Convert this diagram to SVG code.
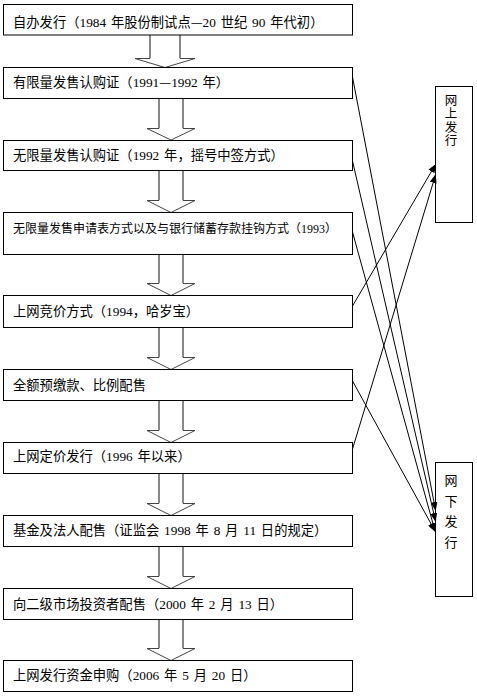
<svg xmlns="http://www.w3.org/2000/svg" width="477" height="699" viewBox="0 0 477 699">
<style>
.box{fill:#fff;stroke:#000;stroke-width:1}
.t{font-family:"Noto Sans CJK SC","Noto Sans CJK JP",sans-serif;font-size:13.3px;fill:#000;word-spacing:1.5px}
.s{font-size:12px;word-spacing:1.5px}
.n{font-family:"Liberation Serif",serif}
.shaft{fill:none;stroke:#888;stroke-width:2}
.head{fill:#fff;stroke:#444;stroke-width:1;stroke-linejoin:miter}
.con{fill:none;stroke:#000;stroke-width:1;marker-end:url(#ah)}
.v{font-family:"Noto Sans CJK SC","Noto Sans CJK JP",sans-serif;fill:#000;writing-mode:tb;glyph-orientation-vertical:0}
</style>
<defs>
<marker id="ah" markerWidth="9" markerHeight="7" refX="8" refY="3.5" orient="auto" markerUnits="userSpaceOnUse">
<path d="M0,0 L9,3.5 L0,7 z" fill="#000"/>
</marker>
</defs>
<rect width="477" height="699" fill="#fff"/>

<g id="block-arrows">
<path class="shaft" d="M150,35 V58.5 M180,35 V58.5"/>
<path class="head" d="M150,58.5 H135 L165,67.5 L195,58.5 H180"/>
<path class="shaft" d="M159,98.5 V128.5 M183,98.5 V128.5"/>
<path class="head" d="M159,128.5 H147 L171,140 L195,128.5 H183"/>
<path class="shaft" d="M159,170.5 V200.5 M183,170.5 V200.5"/>
<path class="head" d="M159,200.5 H147 L171,212.5 L195,200.5 H183"/>
<path class="shaft" d="M159,254.5 V283.5 M183,254.5 V283.5"/>
<path class="head" d="M159,283.5 H147 L171,295.5 L195,283.5 H183"/>
<path class="shaft" d="M159,327.5 V357.5 M183,327.5 V357.5"/>
<path class="head" d="M159,357.5 H147 L171,369.5 L195,357.5 H183"/>
<path class="shaft" d="M159,400.5 V430.5 M183,400.5 V430.5"/>
<path class="head" d="M159,430.5 H147 L171,442.5 L195,430.5 H183"/>
<path class="shaft" d="M159,473.5 V503.5 M183,473.5 V503.5"/>
<path class="head" d="M159,503.5 H147 L171,515.5 L195,503.5 H183"/>
<path class="shaft" d="M159,546.5 V576.5 M183,546.5 V576.5"/>
<path class="head" d="M159,576.5 H147 L171,588.5 L195,576.5 H183"/>
<path class="shaft" d="M159,619.5 V648.5 M183,619.5 V648.5"/>
<path class="head" d="M159,648.5 H147 L171,660.5 L195,648.5 H183"/>
</g>

<g id="n1"><rect class="box" x="3.5" y="4.5" width="349" height="30.5"/>
<text class="t" x="13" y="26.5">自办发行（<tspan class="n">1984 </tspan>年股份制试点—<tspan class="n">20 </tspan>世纪<tspan class="n"> 90 </tspan>年代初）</text></g>
<g id="n2"><rect class="box" x="3.5" y="67.5" width="349" height="31"/>
<text class="t" x="13" y="86.5">有限量发售认购证（<tspan class="n">1991</tspan>—<tspan class="n">1992 </tspan>年）</text></g>
<g id="n3"><rect class="box" x="3.5" y="140.5" width="349" height="30"/>
<text class="t" x="13" y="160">无限量发售认购证（<tspan class="n">1992 </tspan>年，摇号中签方式）</text></g>
<g id="n4"><rect class="box" x="3.5" y="212.5" width="349" height="42"/>
<text class="t s" x="13" y="232.5">无限量发售申请表方式以及与银行储蓄存款挂钩方式（<tspan class="n">1993</tspan>）</text></g>
<g id="n5"><rect class="box" x="3.5" y="295.5" width="349" height="32"/>
<text class="t" x="13" y="315.5">上网竞价方式（<tspan class="n">1994</tspan>，哈岁宝）</text></g>
<g id="n6"><rect class="box" x="3.5" y="369.5" width="349" height="31"/>
<text class="t" x="13" y="390.3">全额预缴款、比例配售</text></g>
<g id="n7"><rect class="box" x="3.5" y="442.5" width="349" height="31"/>
<text class="t" x="13" y="461.3">上网定价发行（<tspan class="n">1996 </tspan>年以来）</text></g>
<g id="n8"><rect class="box" x="3.5" y="515.5" width="349" height="31"/>
<text class="t" x="13" y="535">基金及法人配售（证监会<tspan class="n"> 1998 </tspan>年<tspan class="n"> 8 </tspan>月<tspan class="n"> 11 </tspan>日的规定）</text></g>
<g id="n9"><rect class="box" x="3.5" y="588.5" width="349" height="31"/>
<text class="t" x="13" y="608.7">向二级市场投资者配售（<tspan class="n">2000 </tspan>年<tspan class="n"> 2 </tspan>月<tspan class="n"> 13 </tspan>日）</text></g>
<g id="n10"><rect class="box" x="3.5" y="660.5" width="349" height="31"/>
<text class="t" x="13" y="680.3">上网发行资金申购（<tspan class="n">2006 </tspan>年<tspan class="n"> 5 </tspan>月<tspan class="n"> 20 </tspan>日）</text></g>

<g id="online"><rect class="box" x="435.5" y="86.5" width="37" height="136"/>
<text class="v" x="451" y="93.5" font-size="12.5" letter-spacing="1">网上发行</text></g>
<g id="offline"><rect class="box" x="435.5" y="462.5" width="37" height="134"/>
<text class="v" x="451" y="474" font-size="13" letter-spacing="7.5">网下发行</text></g>

<g id="connectors">
<line class="con" x1="352.5" y1="306" x2="435.5" y2="164.5"/>
<line class="con" x1="352.5" y1="449" x2="435.5" y2="175"/>
<line class="con" x1="352.5" y1="77" x2="435.5" y2="510"/>
<line class="con" x1="352.5" y1="161" x2="435.5" y2="521"/>
<line class="con" x1="352.5" y1="232" x2="435" y2="531"/>
<line class="con" x1="352.5" y1="381" x2="435" y2="531"/>
</g>
</svg>
